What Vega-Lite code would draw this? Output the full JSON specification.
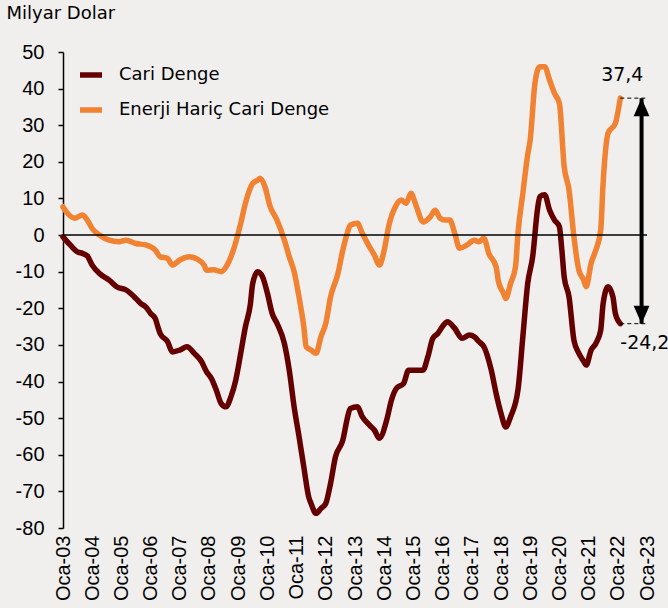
{
  "$schema": "https://vega.github.io/schema/vega-lite/v6.json",
  "width": 584,
  "height": 476,
  "autosize": {"type": "none"},
  "padding": {"left": 63, "top": 52, "right": 21, "bottom": 80},
  "background": "#F1EFEE",
  "config": {"view": {"stroke": null}, "font": "DejaVu Sans"},
  "resolve": {"axis": {"x": "independent", "y": "independent"}},
  "layer": [
    {
      "data": {"values": [
        {"tarih": "2003-01-01", "seri": "Cari Denge", "deger": -0.5},
        {"tarih": "2003-04-01", "seri": "Cari Denge", "deger": -2.7},
        {"tarih": "2003-07-01", "seri": "Cari Denge", "deger": -4.6},
        {"tarih": "2003-09-01", "seri": "Cari Denge", "deger": -5.0},
        {"tarih": "2003-11-01", "seri": "Cari Denge", "deger": -5.7},
        {"tarih": "2004-01-01", "seri": "Cari Denge", "deger": -8.2},
        {"tarih": "2004-04-01", "seri": "Cari Denge", "deger": -10.5},
        {"tarih": "2004-08-01", "seri": "Cari Denge", "deger": -12.3},
        {"tarih": "2004-11-01", "seri": "Cari Denge", "deger": -14.1},
        {"tarih": "2005-03-01", "seri": "Cari Denge", "deger": -15.0},
        {"tarih": "2005-07-01", "seri": "Cari Denge", "deger": -17.3},
        {"tarih": "2005-09-01", "seri": "Cari Denge", "deger": -18.7},
        {"tarih": "2005-11-01", "seri": "Cari Denge", "deger": -19.6},
        {"tarih": "2006-01-01", "seri": "Cari Denge", "deger": -21.4},
        {"tarih": "2006-03-01", "seri": "Cari Denge", "deger": -22.8},
        {"tarih": "2006-04-01", "seri": "Cari Denge", "deger": -25.0},
        {"tarih": "2006-05-01", "seri": "Cari Denge", "deger": -26.9},
        {"tarih": "2006-08-01", "seri": "Cari Denge", "deger": -29.1},
        {"tarih": "2006-10-01", "seri": "Cari Denge", "deger": -31.9},
        {"tarih": "2007-01-01", "seri": "Cari Denge", "deger": -31.4},
        {"tarih": "2007-04-01", "seri": "Cari Denge", "deger": -30.5},
        {"tarih": "2007-07-01", "seri": "Cari Denge", "deger": -32.3},
        {"tarih": "2007-10-01", "seri": "Cari Denge", "deger": -34.6},
        {"tarih": "2007-12-01", "seri": "Cari Denge", "deger": -37.3},
        {"tarih": "2008-02-01", "seri": "Cari Denge", "deger": -39.2},
        {"tarih": "2008-04-01", "seri": "Cari Denge", "deger": -42.3},
        {"tarih": "2008-06-01", "seri": "Cari Denge", "deger": -46.0},
        {"tarih": "2008-08-01", "seri": "Cari Denge", "deger": -46.9},
        {"tarih": "2008-10-01", "seri": "Cari Denge", "deger": -44.2},
        {"tarih": "2008-12-01", "seri": "Cari Denge", "deger": -39.6},
        {"tarih": "2009-02-01", "seri": "Cari Denge", "deger": -32.3},
        {"tarih": "2009-04-01", "seri": "Cari Denge", "deger": -25.0},
        {"tarih": "2009-06-01", "seri": "Cari Denge", "deger": -19.0},
        {"tarih": "2009-07-01", "seri": "Cari Denge", "deger": -13.2},
        {"tarih": "2009-09-01", "seri": "Cari Denge", "deger": -10.0},
        {"tarih": "2009-11-01", "seri": "Cari Denge", "deger": -11.4},
        {"tarih": "2010-01-01", "seri": "Cari Denge", "deger": -15.9},
        {"tarih": "2010-03-01", "seri": "Cari Denge", "deger": -21.4},
        {"tarih": "2010-05-01", "seri": "Cari Denge", "deger": -24.1},
        {"tarih": "2010-08-01", "seri": "Cari Denge", "deger": -29.6},
        {"tarih": "2010-10-01", "seri": "Cari Denge", "deger": -36.9},
        {"tarih": "2010-12-01", "seri": "Cari Denge", "deger": -46.9},
        {"tarih": "2011-02-01", "seri": "Cari Denge", "deger": -55.1},
        {"tarih": "2011-04-01", "seri": "Cari Denge", "deger": -63.3},
        {"tarih": "2011-06-01", "seri": "Cari Denge", "deger": -71.5},
        {"tarih": "2011-07-01", "seri": "Cari Denge", "deger": -73.3},
        {"tarih": "2011-09-01", "seri": "Cari Denge", "deger": -76.0},
        {"tarih": "2011-11-01", "seri": "Cari Denge", "deger": -74.7},
        {"tarih": "2012-01-01", "seri": "Cari Denge", "deger": -73.3},
        {"tarih": "2012-03-01", "seri": "Cari Denge", "deger": -67.8},
        {"tarih": "2012-05-01", "seri": "Cari Denge", "deger": -60.6},
        {"tarih": "2012-08-01", "seri": "Cari Denge", "deger": -56.0},
        {"tarih": "2012-10-01", "seri": "Cari Denge", "deger": -49.6},
        {"tarih": "2012-11-01", "seri": "Cari Denge", "deger": -47.4},
        {"tarih": "2013-02-01", "seri": "Cari Denge", "deger": -46.9},
        {"tarih": "2013-04-01", "seri": "Cari Denge", "deger": -49.6},
        {"tarih": "2013-07-01", "seri": "Cari Denge", "deger": -51.9},
        {"tarih": "2013-09-01", "seri": "Cari Denge", "deger": -53.3},
        {"tarih": "2013-11-01", "seri": "Cari Denge", "deger": -55.5},
        {"tarih": "2014-02-01", "seri": "Cari Denge", "deger": -50.5},
        {"tarih": "2014-04-01", "seri": "Cari Denge", "deger": -45.1},
        {"tarih": "2014-06-01", "seri": "Cari Denge", "deger": -41.9},
        {"tarih": "2014-09-01", "seri": "Cari Denge", "deger": -40.5},
        {"tarih": "2014-11-01", "seri": "Cari Denge", "deger": -36.9},
        {"tarih": "2015-02-01", "seri": "Cari Denge", "deger": -36.9},
        {"tarih": "2015-05-01", "seri": "Cari Denge", "deger": -36.9},
        {"tarih": "2015-07-01", "seri": "Cari Denge", "deger": -33.2},
        {"tarih": "2015-09-01", "seri": "Cari Denge", "deger": -28.2},
        {"tarih": "2015-11-01", "seri": "Cari Denge", "deger": -26.9},
        {"tarih": "2016-02-01", "seri": "Cari Denge", "deger": -24.1},
        {"tarih": "2016-03-01", "seri": "Cari Denge", "deger": -23.7},
        {"tarih": "2016-06-01", "seri": "Cari Denge", "deger": -25.5},
        {"tarih": "2016-09-01", "seri": "Cari Denge", "deger": -28.2},
        {"tarih": "2016-12-01", "seri": "Cari Denge", "deger": -27.3},
        {"tarih": "2017-02-01", "seri": "Cari Denge", "deger": -27.8},
        {"tarih": "2017-04-01", "seri": "Cari Denge", "deger": -29.1},
        {"tarih": "2017-06-01", "seri": "Cari Denge", "deger": -30.5},
        {"tarih": "2017-09-01", "seri": "Cari Denge", "deger": -36.9},
        {"tarih": "2017-11-01", "seri": "Cari Denge", "deger": -43.3},
        {"tarih": "2018-01-01", "seri": "Cari Denge", "deger": -48.7},
        {"tarih": "2018-03-01", "seri": "Cari Denge", "deger": -52.4},
        {"tarih": "2018-05-01", "seri": "Cari Denge", "deger": -49.6},
        {"tarih": "2018-08-01", "seri": "Cari Denge", "deger": -42.3},
        {"tarih": "2018-10-01", "seri": "Cari Denge", "deger": -27.8},
        {"tarih": "2018-12-01", "seri": "Cari Denge", "deger": -13.2},
        {"tarih": "2019-02-01", "seri": "Cari Denge", "deger": -5.9},
        {"tarih": "2019-04-01", "seri": "Cari Denge", "deger": 6.8},
        {"tarih": "2019-05-01", "seri": "Cari Denge", "deger": 10.5},
        {"tarih": "2019-07-01", "seri": "Cari Denge", "deger": 11.0},
        {"tarih": "2019-09-01", "seri": "Cari Denge", "deger": 6.8},
        {"tarih": "2019-11-01", "seri": "Cari Denge", "deger": 4.1},
        {"tarih": "2020-01-01", "seri": "Cari Denge", "deger": 2.3},
        {"tarih": "2020-02-01", "seri": "Cari Denge", "deger": -4.1},
        {"tarih": "2020-03-01", "seri": "Cari Denge", "deger": -11.4},
        {"tarih": "2020-05-01", "seri": "Cari Denge", "deger": -16.9},
        {"tarih": "2020-07-01", "seri": "Cari Denge", "deger": -28.7},
        {"tarih": "2020-09-01", "seri": "Cari Denge", "deger": -32.3},
        {"tarih": "2020-11-01", "seri": "Cari Denge", "deger": -34.5},
        {"tarih": "2020-12-01", "seri": "Cari Denge", "deger": -35.5},
        {"tarih": "2021-02-01", "seri": "Cari Denge", "deger": -31.4},
        {"tarih": "2021-04-01", "seri": "Cari Denge", "deger": -29.6},
        {"tarih": "2021-06-01", "seri": "Cari Denge", "deger": -26.0},
        {"tarih": "2021-07-01", "seri": "Cari Denge", "deger": -18.7},
        {"tarih": "2021-09-01", "seri": "Cari Denge", "deger": -14.1},
        {"tarih": "2021-11-01", "seri": "Cari Denge", "deger": -16.9},
        {"tarih": "2021-12-01", "seri": "Cari Denge", "deger": -21.4},
        {"tarih": "2022-02-01", "seri": "Cari Denge", "deger": -24.2},

        {"tarih": "2003-01-01", "seri": "Enerji Hariç Cari Denge", "deger": 7.7},
        {"tarih": "2003-03-01", "seri": "Enerji Hariç Cari Denge", "deger": 5.9},
        {"tarih": "2003-06-01", "seri": "Enerji Hariç Cari Denge", "deger": 4.6},
        {"tarih": "2003-09-01", "seri": "Enerji Hariç Cari Denge", "deger": 5.5},
        {"tarih": "2003-11-01", "seri": "Enerji Hariç Cari Denge", "deger": 4.1},
        {"tarih": "2004-01-01", "seri": "Enerji Hariç Cari Denge", "deger": 1.8},
        {"tarih": "2004-04-01", "seri": "Enerji Hariç Cari Denge", "deger": 0.0},
        {"tarih": "2004-08-01", "seri": "Enerji Hariç Cari Denge", "deger": -1.4},
        {"tarih": "2004-12-01", "seri": "Enerji Hariç Cari Denge", "deger": -1.8},
        {"tarih": "2005-03-01", "seri": "Enerji Hariç Cari Denge", "deger": -1.4},
        {"tarih": "2005-07-01", "seri": "Enerji Hariç Cari Denge", "deger": -2.3},
        {"tarih": "2005-11-01", "seri": "Enerji Hariç Cari Denge", "deger": -2.7},
        {"tarih": "2006-03-01", "seri": "Enerji Hariç Cari Denge", "deger": -4.1},
        {"tarih": "2006-05-01", "seri": "Enerji Hariç Cari Denge", "deger": -5.9},
        {"tarih": "2006-08-01", "seri": "Enerji Hariç Cari Denge", "deger": -6.4},
        {"tarih": "2006-10-01", "seri": "Enerji Hariç Cari Denge", "deger": -8.2},
        {"tarih": "2007-01-01", "seri": "Enerji Hariç Cari Denge", "deger": -6.8},
        {"tarih": "2007-05-01", "seri": "Enerji Hariç Cari Denge", "deger": -5.9},
        {"tarih": "2007-08-01", "seri": "Enerji Hariç Cari Denge", "deger": -6.5},
        {"tarih": "2007-11-01", "seri": "Enerji Hariç Cari Denge", "deger": -8.2},
        {"tarih": "2007-12-01", "seri": "Enerji Hariç Cari Denge", "deger": -9.6},
        {"tarih": "2008-03-01", "seri": "Enerji Hariç Cari Denge", "deger": -9.5},
        {"tarih": "2008-06-01", "seri": "Enerji Hariç Cari Denge", "deger": -10.0},
        {"tarih": "2008-08-01", "seri": "Enerji Hariç Cari Denge", "deger": -8.7},
        {"tarih": "2008-11-01", "seri": "Enerji Hariç Cari Denge", "deger": -4.1},
        {"tarih": "2009-02-01", "seri": "Enerji Hariç Cari Denge", "deger": 3.2},
        {"tarih": "2009-04-01", "seri": "Enerji Hariç Cari Denge", "deger": 8.7},
        {"tarih": "2009-07-01", "seri": "Enerji Hariç Cari Denge", "deger": 14.1},
        {"tarih": "2009-09-01", "seri": "Enerji Hariç Cari Denge", "deger": 15.0},
        {"tarih": "2009-10-01", "seri": "Enerji Hariç Cari Denge", "deger": 15.5},
        {"tarih": "2009-12-01", "seri": "Enerji Hariç Cari Denge", "deger": 13.2},
        {"tarih": "2010-02-01", "seri": "Enerji Hariç Cari Denge", "deger": 8.0},
        {"tarih": "2010-05-01", "seri": "Enerji Hariç Cari Denge", "deger": 4.1},
        {"tarih": "2010-08-01", "seri": "Enerji Hariç Cari Denge", "deger": -1.4},
        {"tarih": "2010-10-01", "seri": "Enerji Hariç Cari Denge", "deger": -5.9},
        {"tarih": "2010-12-01", "seri": "Enerji Hariç Cari Denge", "deger": -10.0},
        {"tarih": "2011-02-01", "seri": "Enerji Hariç Cari Denge", "deger": -17.0},
        {"tarih": "2011-04-01", "seri": "Enerji Hariç Cari Denge", "deger": -25.0},
        {"tarih": "2011-05-01", "seri": "Enerji Hariç Cari Denge", "deger": -30.5},
        {"tarih": "2011-07-01", "seri": "Enerji Hariç Cari Denge", "deger": -31.4},
        {"tarih": "2011-09-01", "seri": "Enerji Hariç Cari Denge", "deger": -32.3},
        {"tarih": "2011-11-01", "seri": "Enerji Hariç Cari Denge", "deger": -27.8},
        {"tarih": "2012-01-01", "seri": "Enerji Hariç Cari Denge", "deger": -24.1},
        {"tarih": "2012-03-01", "seri": "Enerji Hariç Cari Denge", "deger": -16.9},
        {"tarih": "2012-06-01", "seri": "Enerji Hariç Cari Denge", "deger": -10.5},
        {"tarih": "2012-08-01", "seri": "Enerji Hariç Cari Denge", "deger": -4.1},
        {"tarih": "2012-10-01", "seri": "Enerji Hariç Cari Denge", "deger": 0.9},
        {"tarih": "2012-11-01", "seri": "Enerji Hariç Cari Denge", "deger": 2.7},
        {"tarih": "2013-02-01", "seri": "Enerji Hariç Cari Denge", "deger": 3.2},
        {"tarih": "2013-04-01", "seri": "Enerji Hariç Cari Denge", "deger": 0.5},
        {"tarih": "2013-07-01", "seri": "Enerji Hariç Cari Denge", "deger": -3.2},
        {"tarih": "2013-09-01", "seri": "Enerji Hariç Cari Denge", "deger": -5.5},
        {"tarih": "2013-11-01", "seri": "Enerji Hariç Cari Denge", "deger": -8.2},
        {"tarih": "2014-01-01", "seri": "Enerji Hariç Cari Denge", "deger": -4.1},
        {"tarih": "2014-03-01", "seri": "Enerji Hariç Cari Denge", "deger": 2.7},
        {"tarih": "2014-06-01", "seri": "Enerji Hariç Cari Denge", "deger": 8.2},
        {"tarih": "2014-08-01", "seri": "Enerji Hariç Cari Denge", "deger": 9.6},
        {"tarih": "2014-10-01", "seri": "Enerji Hariç Cari Denge", "deger": 8.7},
        {"tarih": "2014-12-01", "seri": "Enerji Hariç Cari Denge", "deger": 11.4},
        {"tarih": "2015-02-01", "seri": "Enerji Hariç Cari Denge", "deger": 8.2},
        {"tarih": "2015-05-01", "seri": "Enerji Hariç Cari Denge", "deger": 3.6},
        {"tarih": "2015-08-01", "seri": "Enerji Hariç Cari Denge", "deger": 5.0},
        {"tarih": "2015-10-01", "seri": "Enerji Hariç Cari Denge", "deger": 6.8},
        {"tarih": "2015-12-01", "seri": "Enerji Hariç Cari Denge", "deger": 4.6},
        {"tarih": "2016-02-01", "seri": "Enerji Hariç Cari Denge", "deger": 4.1},
        {"tarih": "2016-04-01", "seri": "Enerji Hariç Cari Denge", "deger": 4.1},
        {"tarih": "2016-06-01", "seri": "Enerji Hariç Cari Denge", "deger": 0.5},
        {"tarih": "2016-08-01", "seri": "Enerji Hariç Cari Denge", "deger": -3.6},
        {"tarih": "2016-11-01", "seri": "Enerji Hariç Cari Denge", "deger": -2.7},
        {"tarih": "2017-02-01", "seri": "Enerji Hariç Cari Denge", "deger": -1.4},
        {"tarih": "2017-04-01", "seri": "Enerji Hariç Cari Denge", "deger": -1.8},
        {"tarih": "2017-06-01", "seri": "Enerji Hariç Cari Denge", "deger": -0.9},
        {"tarih": "2017-08-01", "seri": "Enerji Hariç Cari Denge", "deger": -5.0},
        {"tarih": "2017-11-01", "seri": "Enerji Hariç Cari Denge", "deger": -8.7},
        {"tarih": "2017-12-01", "seri": "Enerji Hariç Cari Denge", "deger": -12.8},
        {"tarih": "2018-02-01", "seri": "Enerji Hariç Cari Denge", "deger": -15.9},
        {"tarih": "2018-03-01", "seri": "Enerji Hariç Cari Denge", "deger": -17.3},
        {"tarih": "2018-05-01", "seri": "Enerji Hariç Cari Denge", "deger": -13.2},
        {"tarih": "2018-07-01", "seri": "Enerji Hariç Cari Denge", "deger": -8.7},
        {"tarih": "2018-08-01", "seri": "Enerji Hariç Cari Denge", "deger": 0.5},
        {"tarih": "2018-10-01", "seri": "Enerji Hariç Cari Denge", "deger": 11.4},
        {"tarih": "2018-12-01", "seri": "Enerji Hariç Cari Denge", "deger": 22.0},
        {"tarih": "2019-01-01", "seri": "Enerji Hariç Cari Denge", "deger": 26.0},
        {"tarih": "2019-03-01", "seri": "Enerji Hariç Cari Denge", "deger": 41.4},
        {"tarih": "2019-05-01", "seri": "Enerji Hariç Cari Denge", "deger": 46.0},
        {"tarih": "2019-07-01", "seri": "Enerji Hariç Cari Denge", "deger": 46.0},
        {"tarih": "2019-09-01", "seri": "Enerji Hariç Cari Denge", "deger": 42.3},
        {"tarih": "2019-11-01", "seri": "Enerji Hariç Cari Denge", "deger": 38.7},
        {"tarih": "2020-01-01", "seri": "Enerji Hariç Cari Denge", "deger": 36.0},
        {"tarih": "2020-03-01", "seri": "Enerji Hariç Cari Denge", "deger": 18.7},
        {"tarih": "2020-05-01", "seri": "Enerji Hariç Cari Denge", "deger": 12.3},
        {"tarih": "2020-07-01", "seri": "Enerji Hariç Cari Denge", "deger": -0.5},
        {"tarih": "2020-09-01", "seri": "Enerji Hariç Cari Denge", "deger": -9.6},
        {"tarih": "2020-11-01", "seri": "Enerji Hariç Cari Denge", "deger": -12.3},
        {"tarih": "2020-12-01", "seri": "Enerji Hariç Cari Denge", "deger": -14.1},
        {"tarih": "2021-02-01", "seri": "Enerji Hariç Cari Denge", "deger": -7.7},
        {"tarih": "2021-04-01", "seri": "Enerji Hariç Cari Denge", "deger": -4.1},
        {"tarih": "2021-06-01", "seri": "Enerji Hariç Cari Denge", "deger": 1.4},
        {"tarih": "2021-07-01", "seri": "Enerji Hariç Cari Denge", "deger": 14.1},
        {"tarih": "2021-09-01", "seri": "Enerji Hariç Cari Denge", "deger": 27.8},
        {"tarih": "2021-12-01", "seri": "Enerji Hariç Cari Denge", "deger": 30.5},
        {"tarih": "2022-02-01", "seri": "Enerji Hariç Cari Denge", "deger": 37.4}
      ]},
      "mark": {"type": "line", "strokeWidth": 5.5, "strokeJoin": "round", "strokeCap": "round", "interpolate": "monotone"},
      "encoding": {
        "x": {
          "field": "tarih", "type": "temporal",
          "scale": {"type": "utc", "domain": [{"year": 2003, "month": 1, "date": 1, "utc": true}, {"year": 2023, "month": 1, "date": 1, "utc": true}], "nice": false},
          "axis": {
            "values": [
              {"year": 2003, "month": 1, "date": 1, "utc": true},
              {"year": 2004, "month": 1, "date": 1, "utc": true},
              {"year": 2005, "month": 1, "date": 1, "utc": true},
              {"year": 2006, "month": 1, "date": 1, "utc": true},
              {"year": 2007, "month": 1, "date": 1, "utc": true},
              {"year": 2008, "month": 1, "date": 1, "utc": true},
              {"year": 2009, "month": 1, "date": 1, "utc": true},
              {"year": 2010, "month": 1, "date": 1, "utc": true},
              {"year": 2011, "month": 1, "date": 1, "utc": true},
              {"year": 2012, "month": 1, "date": 1, "utc": true},
              {"year": 2013, "month": 1, "date": 1, "utc": true},
              {"year": 2014, "month": 1, "date": 1, "utc": true},
              {"year": 2015, "month": 1, "date": 1, "utc": true},
              {"year": 2016, "month": 1, "date": 1, "utc": true},
              {"year": 2017, "month": 1, "date": 1, "utc": true},
              {"year": 2018, "month": 1, "date": 1, "utc": true},
              {"year": 2019, "month": 1, "date": 1, "utc": true},
              {"year": 2020, "month": 1, "date": 1, "utc": true},
              {"year": 2021, "month": 1, "date": 1, "utc": true},
              {"year": 2022, "month": 1, "date": 1, "utc": true},
              {"year": 2023, "month": 1, "date": 1, "utc": true}
            ],
            "labelExpr": "'Oca-' + utcFormat(datum.value, '%y')",
            "labelAngle": -90,
            "labelFont": "Liberation Sans",
            "labelFontSize": 20,
            "labelColor": "black",
            "labelPadding": 7,
            "labelOverlap": false,
            "labelBound": false,
            "labelFlush": false,
            "ticks": false,
            "domain": false,
            "grid": false,
            "title": null
          }
        },
        "y": {
          "field": "deger", "type": "quantitative",
          "scale": {"domain": [-80, 50], "nice": false, "zero": false},
          "axis": {
            "values": [-80, -70, -60, -50, -40, -30, -20, -10, 0, 10, 20, 30, 40, 50],
            "labelExpr": "'' + datum.value",
            "grid": false,
            "domainColor": "black",
            "domainWidth": 1.5,
            "tickColor": "black",
            "tickSize": 5,
            "tickWidth": 1.5,
            "labelFont": "Liberation Sans",
            "labelFontSize": 20,
            "labelColor": "black",
            "labelPadding": 14,
            "labelFlush": false,
            "labelOverlap": false,
            "title": "Milyar Dolar",
            "titleAngle": 0,
            "titleAlign": "left",
            "titleBaseline": "top",
            "titleX": -57,
            "titleY": -48,
            "titleFont": "DejaVu Sans",
            "titleFontSize": 18,
            "titleFontWeight": "normal",
            "titleColor": "black"
          }
        },
        "color": {
          "field": "seri", "type": "nominal",
          "scale": {"domain": ["Cari Denge", "Enerji Hariç Cari Denge"], "range": ["#650000", "#F08232"]},
          "legend": {
            "orient": "none",
            "legendX": 14,
            "legendY": 9,
            "title": null,
            "symbolType": "stroke",
            "symbolSize": 484,
            "symbolStrokeWidth": 5.5,
            "labelFont": "DejaVu Sans",
            "labelFontSize": 18,
            "labelColor": "black",
            "labelOffset": 14,
            "labelLimit": 0,
            "rowPadding": 10,
            "padding": 0
          }
        }
      }
    },
    {
      "data": {"values": [{"deger": 0}]},
      "mark": {"type": "rule", "color": "black", "strokeWidth": 1.5},
      "encoding": {
        "y": {"field": "deger", "type": "quantitative", "axis": null}
      }
    },
    {
      "data": {"values": [
        {"tarih": "2022-02-01", "tarih2": "2023-01-06", "deger": 37.4},
        {"tarih": "2022-02-01", "tarih2": "2023-01-06", "deger": -24.2}
      ]},
      "mark": {"type": "rule", "color": "black", "strokeWidth": 1, "strokeDash": [4, 3]},
      "encoding": {
        "x": {"field": "tarih", "type": "temporal", "axis": null},
        "x2": {"field": "tarih2"},
        "y": {"field": "deger", "type": "quantitative", "axis": null}
      }
    },
    {
      "data": {"values": [{"tarih": "2022-10-25", "deger": 37.4, "alt": -24.2}]},
      "mark": {"type": "rule", "color": "black", "strokeWidth": 4},
      "encoding": {
        "x": {"field": "tarih", "type": "temporal", "axis": null},
        "y": {"field": "deger", "type": "quantitative", "axis": null},
        "y2": {"field": "alt"}
      }
    },
    {
      "data": {"values": [{"tarih": "2022-10-25", "deger": 37.4}]},
      "mark": {"type": "point", "shape": "M0,-1L0.88,1L-0.88,1Z", "size": 324, "filled": true, "color": "black", "opacity": 1, "strokeWidth": 0, "yOffset": 9},
      "encoding": {
        "x": {"field": "tarih", "type": "temporal", "axis": null},
        "y": {"field": "deger", "type": "quantitative", "axis": null}
      }
    },
    {
      "data": {"values": [{"tarih": "2022-10-25", "deger": -24.2}]},
      "mark": {"type": "point", "shape": "M0,1L0.88,-1L-0.88,-1Z", "size": 324, "filled": true, "color": "black", "opacity": 1, "strokeWidth": 0, "yOffset": -9},
      "encoding": {
        "x": {"field": "tarih", "type": "temporal", "axis": null},
        "y": {"field": "deger", "type": "quantitative", "axis": null}
      }
    },
    {
      "data": {"values": [{"tarih": "2022-02-01", "deger": 37.4, "etiket": "37,4"}]},
      "mark": {"type": "text", "font": "DejaVu Sans", "fontSize": 19, "color": "black", "align": "center", "baseline": "middle", "dx": 2, "dy": -23},
      "encoding": {
        "x": {"field": "tarih", "type": "temporal", "axis": null},
        "y": {"field": "deger", "type": "quantitative", "axis": null},
        "text": {"field": "etiket"}
      }
    },
    {
      "data": {"values": [{"tarih": "2022-02-01", "deger": -24.2, "etiket": "-24,2"}]},
      "mark": {"type": "text", "font": "DejaVu Sans", "fontSize": 19, "color": "black", "align": "left", "baseline": "middle", "dx": 0, "dy": 19},
      "encoding": {
        "x": {"field": "tarih", "type": "temporal", "axis": null},
        "y": {"field": "deger", "type": "quantitative", "axis": null},
        "text": {"field": "etiket"}
      }
    }
  ]
}
